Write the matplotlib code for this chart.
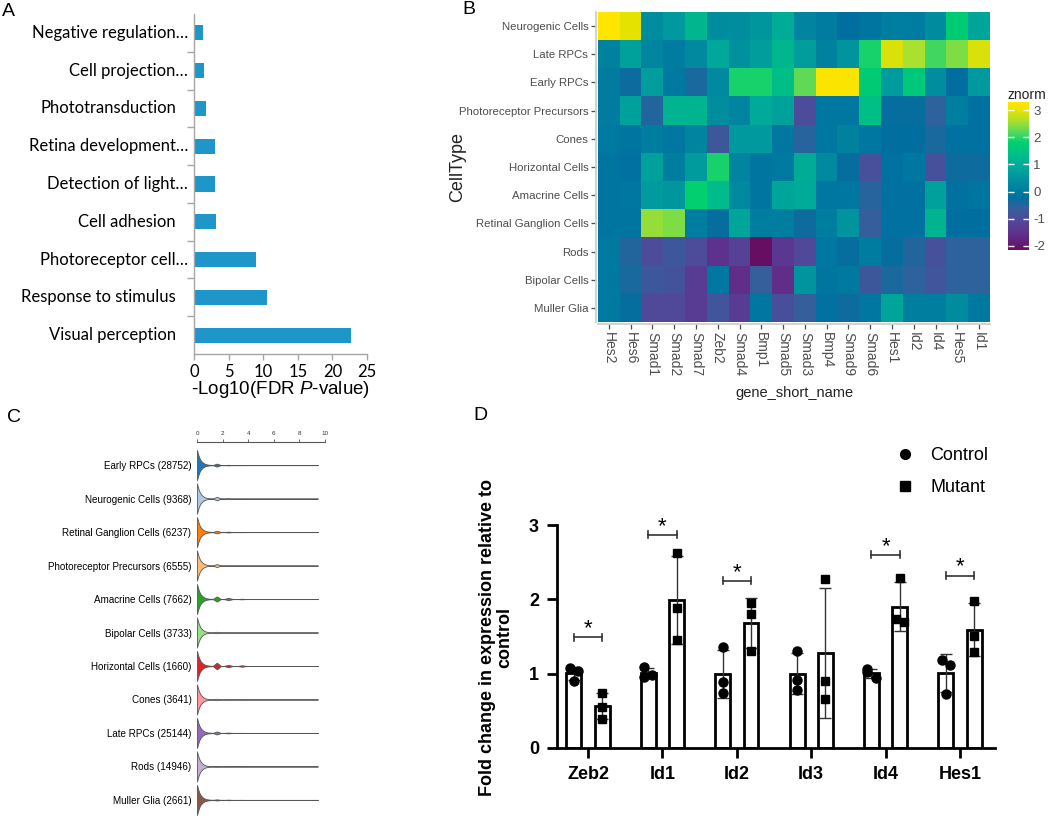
import numpy as np
import matplotlib
matplotlib.use("Agg")
import matplotlib.pyplot as plt
import matplotlib.transforms as mtransforms
from matplotlib.colors import LinearSegmentedColormap
from matplotlib.lines import Line2D
from matplotlib import font_manager

# ------------------------------------------------------------------ data
# Panel A: GO enrichment
go_terms = ["Negative regulation…", "Cell projection…", "Phototransduction",
            "Retina development…", "Detection of light…", "Cell adhesion",
            "Photoreceptor cell…", "Response to stimulus", "Visual perception"]
go_values = [1.3, 1.4, 1.75, 3.05, 3.1, 3.15, 8.9, 10.5, 22.7]
go_ticks = [0, 5, 10, 15, 20, 25]

# Panel B: heatmap (znorm)
cell_types = ["Neurogenic Cells", "Late RPCs", "Early RPCs", "Photoreceptor Precursors",
              "Cones", "Horizontal Cells", "Amacrine Cells", "Retinal Ganglion Cells",
              "Rods", "Bipolar Cells", "Muller Glia"]
genes = ["Hes2", "Hes6", "Smad1", "Smad2", "Smad7", "Zeb2", "Smad4", "Bmp1", "Smad5",
         "Smad3", "Bmp4", "Smad9", "Smad6", "Hes1", "Id2", "Id4", "Hes5", "Id1"]
z_neurogenic = [3.3, 3.0, 0.35, 0.6, 1.2, 0.35, 0.4, 0.55, 1.0, 0.2, 0.05, -0.2, -0.1, 0.1, 0.05, 0.35, 1.7, 0.85]
z_late_rpc = [0.15, 0.75, 0.2, 0.05, 0.3, 0.9, 0.45, 0.7, 1.2, 0.7, 0.15, 0.5, 1.9, 2.9, 2.6, 2.1, 2.4, 2.9]
z_early_rpc = [0.05, -0.3, 0.7, 0.0, -0.4, 0.3, 1.9, 1.9, 1.4, 2.25, 3.25, 3.25, 1.7, 0.65, 1.6, 0.4, -0.2, 0.6]
z_pr_precursor = [0.05, 0.75, -0.45, 1.15, 1.15, 0.4, 0.2, 0.95, 0.75, -1.0, -0.05, -0.05, 1.4, -0.25, -0.25, -0.55, 0.1, -0.15]
z_cones = [0.0, -0.1, 0.1, -0.05, 0.2, -0.75, 0.6, 0.6, -0.05, -0.5, -0.05, 0.15, -0.05, -0.2, -0.2, -0.4, -0.15, -0.15]
z_horizontal = [-0.1, -0.15, 0.75, 0.1, 0.65, 1.9, 0.2, -0.1, 0.0, 1.0, 0.3, -0.25, -0.9, -0.15, -0.05, -0.9, -0.3, -0.3]
z_amacrine = [-0.1, -0.05, 0.65, 0.55, 1.8, 1.3, 0.3, -0.1, 0.85, 0.95, -0.05, -0.05, -0.5, -0.15, -0.15, 0.75, -0.15, -0.1]
z_rgc = [-0.1, -0.1, 2.5, 2.4, 0.1, -0.25, 0.85, 0.1, 0.1, -0.3, 0.1, 0.5, -0.6, -0.15, -0.15, 1.15, -0.2, -0.2]
z_rods = [0.0, -0.45, -1.0, -0.75, -1.0, -1.5, -1.2, -2.15, -1.4, -1.05, -0.05, -0.25, 0.05, -0.25, -0.45, -0.9, -0.55, -0.55]
z_bipolar = [0.0, -0.4, -0.75, -0.85, -1.3, -0.05, -1.6, -0.6, -1.6, 0.5, -0.1, 0.0, -0.75, -0.4, -0.55, -0.8, -0.55, -0.55]
z_muller = [0.0, -0.25, -1.05, -1.05, -1.3, -0.8, -1.3, -0.05, -0.95, -0.6, -0.15, -0.3, -0.05, 0.85, 0.1, 0.1, 0.35, 0.0]
znorm_ticks = [-2, -1, 0, 1, 2, 3]

# Panel C: violins
violin_labels = ["Early RPCs (28752)", "Neurogenic Cells (9368)", "Retinal Ganglion Cells (6237)",
                 "Photoreceptor Precursors (6555)", "Amacrine Cells (7662)", "Bipolar Cells (3733)",
                 "Horizontal Cells (1660)", "Cones (3641)", "Late RPCs (25144)", "Rods (14946)",
                 "Muller Glia (2661)"]
violin_grid = [0, 0.1, 0.2, 0.3, 0.45, 0.6, 0.8, 1.0, 1.25, 1.4, 1.55, 1.7, 1.85, 2.1,
               2.3, 2.45, 2.6, 2.8, 3.2, 3.35, 3.5, 3.65, 3.9, 5.0, 7.0, 9.45]
violin_core = [1.0, 0.68, 0.45, 0.30, 0.17, 0.09, 0.04, 0.02, 0.012, 0.01, 0.01, 0.01, 0.009,
               0.008, 0.008, 0.008, 0.007, 0.007, 0.006, 0.006, 0.006, 0.006, 0.005, 0.005,
               0.005, 0.005]
violin_bump_15 = [0.10, 0.12, 0.09, 0.10, 0.17, 0.05, 0.22, 0.05, 0.10, 0.03, 0.04]
violin_bump_25 = [0.02, 0.04, 0.03, 0.03, 0.08, 0.02, 0.08, 0.02, 0.03, 0.01, 0.02]
violin_bump_35 = [0.01, 0.01, 0.01, 0.01, 0.02, 0.01, 0.05, 0.01, 0.01, 0.005, 0.01]
violin_ticks = [0, 2, 4, 6, 8, 10]

# Panel D: qPCR
qpcr_genes = ["Zeb2", "Id1", "Id2", "Id3", "Id4", "Hes1"]
control_pts = [[1.08, 1.03, 0.90], [1.09, 0.96, 0.98], [1.36, 0.89, 0.745],
               [1.31, 0.915, 0.78], [1.06, 1.02, 0.94], [1.19, 1.11, 0.72]]
mutant_pts = [[0.736, 0.556, 0.39], [2.62, 1.89, 1.45], [1.95, 1.80, 1.30],
              [2.27, 0.906, 0.655], [2.29, 1.73, 1.69], [1.98, 1.51, 1.29]]
sig_heights = [1.49, 2.87, 2.25, None, 2.60, 2.32]
qpcr_yticks = [0, 1, 2, 3]

# ------------------------------------------------------------------ helpers
W, H = 1050, 816


def box(left, top, right, bottom):
    return [left / W, 1 - bottom / H, (right - left) / W, (bottom - top) / H]


avail = {f.name for f in font_manager.fontManager.ttflist}
SANS = "Liberation Sans"
NARROW = "Liberation Sans Narrow" if "Liberation Sans Narrow" in avail else None
CAL = "Lato"
plt.rcParams["font.family"] = [SANS, "DejaVu Sans"]
plt.rcParams["mathtext.fontset"] = "custom"
plt.rcParams["mathtext.rm"] = SANS
plt.rcParams["mathtext.it"] = SANS + ":italic"

fig = plt.figure(figsize=(W / 100, H / 100), dpi=100)

# panel letters
for letter, (px, py) in {"A": (8, 11), "B": (469, 9), "C": (14, 418), "D": (480, 416)}.items():
    fig.text(px / W, 1 - py / H, letter, fontsize=14, ha="center", va="center")

# ------------------------------------------------------------------ Panel A
axA = fig.add_axes(box(194, 14, 367, 354))
nA = len(go_terms)
axA.barh(np.arange(nA), go_values, height=0.4, color="#1e96c9")
axA.set_ylim(nA - 0.5, -0.5)
axA.set_xlim(0, 25)
for s in ["top", "right"]:
    axA.spines[s].set_visible(False)
for s in ["left", "bottom"]:
    axA.spines[s].set_color("#a6a6a6")
    axA.spines[s].set_linewidth(1.0)
axA.set_yticks(np.arange(0.5, nA - 1, 1))
axA.set_yticklabels([])
axA.tick_params(axis="y", length=5, width=1, color="#a6a6a6")
axA.set_xticks(go_ticks)
axA.set_xticklabels([str(t) for t in go_ticks], fontfamily=CAL, fontsize=12)
axA.tick_params(axis="x", length=4, width=1, color="#a6a6a6", pad=3)
blend = mtransforms.blended_transform_factory(axA.transAxes, axA.transData)
for i, lab in enumerate(go_terms):
    gap = 6 if lab.endswith("…") else 18
    axA.text(0, i, lab, transform=mtransforms.offset_copy(blend, fig=fig, x=-gap, y=0, units="dots"),
             ha="right", va="center", fontfamily=CAL, fontsize=12)
fig.text(281 / W, 1 - 389 / H, r"-Log10(FDR $\mathit{P}$-value)", fontsize=13.5,
         ha="center", va="center")

# ------------------------------------------------------------------ Panel B
Z = np.array([z_neurogenic, z_late_rpc, z_early_rpc, z_pr_precursor, z_cones, z_horizontal,
              z_amacrine, z_rgc, z_rods, z_bipolar, z_muller])
zmin, zmax = -2.15, 3.3
anchors = [(-2.15, "#660f62"), (-1.6, "#602e8b"), (-1.1, "#53479a"), (-0.6, "#34609c"),
           (-0.2, "#0070a0"), (0.1, "#007fa0"), (0.5, "#00949f"), (0.9, "#00a89a"),
           (1.3, "#00bb8c"), (1.8, "#00d070"), (2.2, "#55d85c"), (2.6, "#a8e030"),
           (3.0, "#e6e200"), (3.3, "#ffe600")]
cmap = LinearSegmentedColormap.from_list(
    "znorm", [((v - zmin) / (zmax - zmin), c) for v, c in anchors])

axB = fig.add_axes(box(598, 12, 990, 322))
im = axB.imshow(Z, cmap=cmap, vmin=zmin, vmax=zmax, aspect="auto", interpolation="nearest")
for s in ["top", "right"]:
    axB.spines[s].set_visible(False)
for s in ["left", "bottom"]:
    axB.spines[s].set_color("#cfcfcf")
    axB.spines[s].set_linewidth(1.3)
    axB.spines[s].set_position(("outward", 1.5))
grey = "#4d4d4d"
axB.set_yticks(range(len(cell_types)))
if NARROW:
    axB.set_yticklabels(cell_types, fontfamily=NARROW, fontsize=9.5, color=grey)
else:
    axB.set_yticklabels(cell_types, fontsize=8.2, color=grey)
axB.set_xticks(range(len(genes)))
axB.set_xticklabels(genes, rotation=-90, fontsize=10, color=grey, ha="center", va="top")
axB.tick_params(length=3.5, width=0.9, color="#4d4d4d", pad=2)
fig.text(458 / W, 1 - 167 / H, "CellType", rotation=90, fontsize=13, color="#222222",
         ha="center", va="center", fontfamily=SANS)
fig.text(794 / W, 1 - 393 / H, "gene_short_name", fontsize=10.5, color="#222222",
         ha="center", va="center", fontfamily=NARROW or SANS)

cax = fig.add_axes(box(1008, 102, 1029, 250))
cb = fig.colorbar(im, cax=cax)
cb.outline.set_visible(False)
cb.set_ticks(znorm_ticks)
cb.set_ticklabels([str(t) for t in znorm_ticks])
cax.tick_params(direction="in", length=4, width=1, color="white", labelcolor=grey,
                labelsize=9.5, left=True, right=True, pad=3)
fig.text(1007 / W, 1 - 95 / H, "znorm", fontsize=10, color="#222222", ha="left", va="center",
         fontfamily=NARROW or SANS)

# ------------------------------------------------------------------ Panel C
violin_colors = ["#1f77b4", "#aec7e8", "#ff7f0e", "#ffbb78", "#2ca02c", "#98df8a",
                 "#d62728", "#ff9896", "#9467bd", "#c5b0d5", "#8c564b"]
nC = len(violin_labels)
axC = fig.add_axes(box(197, 442, 325, 816))
grid = np.array(violin_grid)
i15, i25, i35 = [int(np.argmin(np.abs(grid - v))) for v in (1.55, 2.45, 3.5)]
stats = []
for i in range(nC):
    d = np.array(violin_core, dtype=float)
    for idx, bump in ((i15, violin_bump_15[i]), (i25, violin_bump_25[i]), (i35, violin_bump_35[i])):
        d[idx] = max(d[idx], bump)
        d[idx - 1] = max(d[idx - 1], 0.55 * bump)
        d[idx + 1] = max(d[idx + 1], 0.55 * bump)
    stats.append(dict(coords=grid, vals=d, mean=0.3, median=0.1, min=0.0, max=grid[-1]))
try:
    parts = axC.violin(stats, positions=np.arange(nC), orientation="horizontal", widths=0.9,
                       showmeans=False, showextrema=False, showmedians=False)
except TypeError:
    parts = axC.violin(stats, positions=np.arange(nC), vert=False, widths=0.9,
                       showmeans=False, showextrema=False, showmedians=False)
for body, col in zip(parts["bodies"], violin_colors):
    body.set_facecolor(col)
    body.set_edgecolor("#555555")
    body.set_linewidth(0.6)
    body.set_alpha(1)
axC.set_xlim(0, 10)
axC.set_ylim(nC - 1 + 0.48, -0.69)
axC.set_yticks(range(nC))
axC.set_yticklabels(violin_labels, fontsize=7.1)
axC.tick_params(axis="y", length=0, pad=4)
axC.xaxis.tick_top()
axC.set_xticks(violin_ticks)
axC.set_xticklabels([str(t) for t in violin_ticks], fontsize=4.5, color="#333333")
axC.tick_params(axis="x", length=2.5, width=0.6, color="#555555", pad=1.5)
for s in ["bottom", "left", "right"]:
    axC.spines[s].set_visible(False)
axC.spines["top"].set_color("#555555")
axC.spines["top"].set_linewidth(0.8)

# ------------------------------------------------------------------ Panel D
axD = fig.add_axes(box(557, 525, 995, 748))
nD = len(qpcr_genes)
xg = np.arange(nD)
off, bw = 0.19, 0.2
ctrl_mean = [np.mean(p) for p in control_pts]
mut_mean = [np.mean(p) for p in mutant_pts]
ctrl_sd = [np.std(p, ddof=1) for p in control_pts]
mut_sd = [np.std(p, ddof=1) for p in mutant_pts]
axD.bar(xg - off, ctrl_mean, width=bw, color="white", edgecolor="black", linewidth=2.0, zorder=2)
axD.bar(xg + off, mut_mean, width=bw, color="white", edgecolor="black", linewidth=2.0, zorder=2)
axD.errorbar(xg - off, ctrl_mean, yerr=ctrl_sd, fmt="none", ecolor="#333333", elinewidth=1.0,
             capsize=4, capthick=1.0, zorder=3)
axD.errorbar(xg + off, mut_mean, yerr=mut_sd, fmt="none", ecolor="#333333", elinewidth=1.0,
             capsize=4, capthick=1.0, zorder=3)


def jitter(vals, step=0.055):
    vals = np.asarray(vals)
    dx = np.zeros(len(vals))
    for a in range(len(vals)):
        for b in range(len(vals)):
            if a != b and abs(vals[a] - vals[b]) < 0.12:
                dx[a] = step if a > b else -step
    return dx


for i in range(nD):
    cp = np.asarray(control_pts[i])
    mp = np.asarray(mutant_pts[i])
    axD.plot(xg[i] - off + jitter(cp), cp, "o", color="black", ms=6.5, zorder=4, clip_on=False)
    axD.plot(xg[i] + off + jitter(mp), mp, "s", color="black", ms=6, zorder=4, clip_on=False)
    h = sig_heights[i]
    if h is not None:
        x0, x1 = xg[i] - off, xg[i] + off
        axD.plot([x0, x1], [h, h], color="#333333", lw=1.2, clip_on=False)
        axD.plot([x0, x0], [h - 0.05, h + 0.05], color="#333333", lw=1.2, clip_on=False)
        axD.plot([x1, x1], [h - 0.05, h + 0.05], color="#333333", lw=1.2, clip_on=False)
        axD.text(xg[i], h + 0.04, "*", fontsize=16, ha="center", va="baseline", clip_on=False)

axD.set_xlim(-0.417, 5.47)
axD.set_ylim(0, 3)
axD.set_yticks(qpcr_yticks)
axD.set_yticklabels([str(t) for t in qpcr_yticks], fontsize=13, fontweight="bold")
axD.set_xticks(xg)
axD.set_xticklabels(qpcr_genes, fontsize=13, fontweight="bold")
axD.tick_params(length=7, width=2, color="black", pad=6)
for s in ["top", "right"]:
    axD.spines[s].set_visible(False)
for s in ["left", "bottom"]:
    axD.spines[s].set_linewidth(2)
fig.text(496 / W, 1 - 637 / H, "Fold change in expression relative to\ncontrol", rotation=90,
         fontsize=13, fontweight="bold", ha="center", va="center", linespacing=1.0,
         multialignment="center")
handles = [Line2D([], [], marker="o", ls="none", color="black", ms=7),
           Line2D([], [], marker="s", ls="none", color="black", ms=7)]
fig.legend(handles, ["Control", "Mutant"], loc="upper left",
           bbox_to_anchor=(896 / W, 1 - 447 / H), frameon=False, fontsize=13,
           handlelength=1.0, handletextpad=0.9, labelspacing=0.85, borderpad=0,
           borderaxespad=0)

fig.savefig("out.png", dpi=100)
